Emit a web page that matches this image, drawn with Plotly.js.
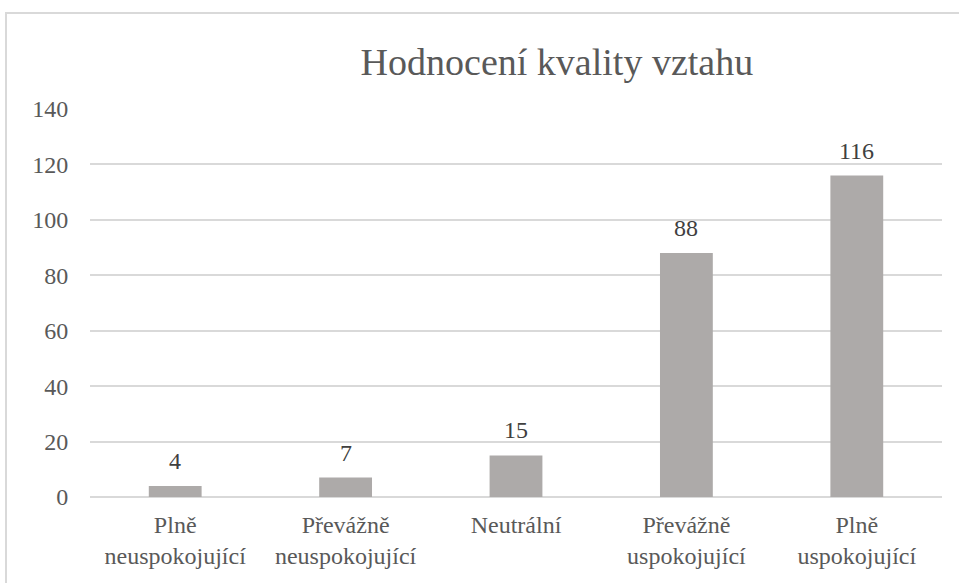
<!DOCTYPE html>
<html><head><meta charset="utf-8">
<script src="https://cdn.plot.ly/plotly-3.0.1.min.js"></script>
<style>
html,body{margin:0;padding:0;background:#fff;overflow:hidden}
#frame{position:absolute;left:5px;top:12px;width:1000px;height:600px;border:2px solid #d9d9d9;box-sizing:border-box;pointer-events:none}
#chart text{font-family:'Liberation Serif','Times New Roman',serif !important}
</style></head>
<body>
<div id="chart" style="width:959px;height:583px"></div>
<div id="frame"></div>
<script>
const categories = ["Plně<br>neuspokojující", "Převážně<br>neuspokojující", "Neutrální", "Převážně<br>uspokojující", "Plně<br>uspokojující"];
const values = [4, 7, 15, 88, 116];
const yTicks = [0, 20, 40, 60, 80, 100, 120, 140];
const titleText = "Hodnocení kvality vztahu";

const serifFamily = "Liberation Serif";
const textColor = "#595959";

const trace = {
  type: "bar",
  x: categories,
  y: values,
  marker: {color: "#adaaa9"},
  hoverinfo: "none"
};

const labelAnnotations = values.map((v, i) => ({
  x: categories[i], y: v, xref: "x", yref: "y",
  text: String(v), showarrow: false, yanchor: "bottom", yshift: 10,
  font: {family: serifFamily, size: 24, color: "#404040"}
}));

const layout = {
  width: 959, height: 583,
  margin: {l: 90, r: 17, t: 109, b: 86},
  paper_bgcolor: "#fff", plot_bgcolor: "#fff",
  showlegend: false,
  bargap: 0.69,
  title: {text: titleText, font: {family: serifFamily, size: 38, color: textColor}, x: 0.548, xref: "paper", y: 0.894, yanchor: "middle", xanchor: "center"},
  xaxis: {
    showgrid: false, zeroline: false, showline: false,
    tickfont: {family: serifFamily, size: 24, color: textColor},
    ticks: "outside", ticklen: 6, tickcolor: "rgba(0,0,0,0)"
  },
  yaxis: {
    range: [0, 140], tickvals: yTicks, ticktext: yTicks.map(String),
    showgrid: true, gridcolor: "#d9d9d9", gridwidth: 2,
    zeroline: true, zerolinecolor: "#d9d9d9", zerolinewidth: 2,
    showline: false,
    tickfont: {family: serifFamily, size: 24, color: textColor},
    ticks: "outside", ticklen: 16, tickcolor: "rgba(0,0,0,0)"
  },
  annotations: labelAnnotations
};

function forceSerif() {
  document.querySelectorAll("#chart text, #chart tspan").forEach(el => {
    el.style.setProperty("font-family", "'Liberation Serif', 'Times New Roman', serif", "important");
    el.setAttribute("font-family", "Liberation Serif");
  });
}

const gd = document.getElementById("chart");
Plotly.newPlot(gd, [trace], layout, {displayModeBar: false}).then(() => {
  forceSerif();
  gd.on("plotly_afterplot", forceSerif);
});
</script>
</body></html>
